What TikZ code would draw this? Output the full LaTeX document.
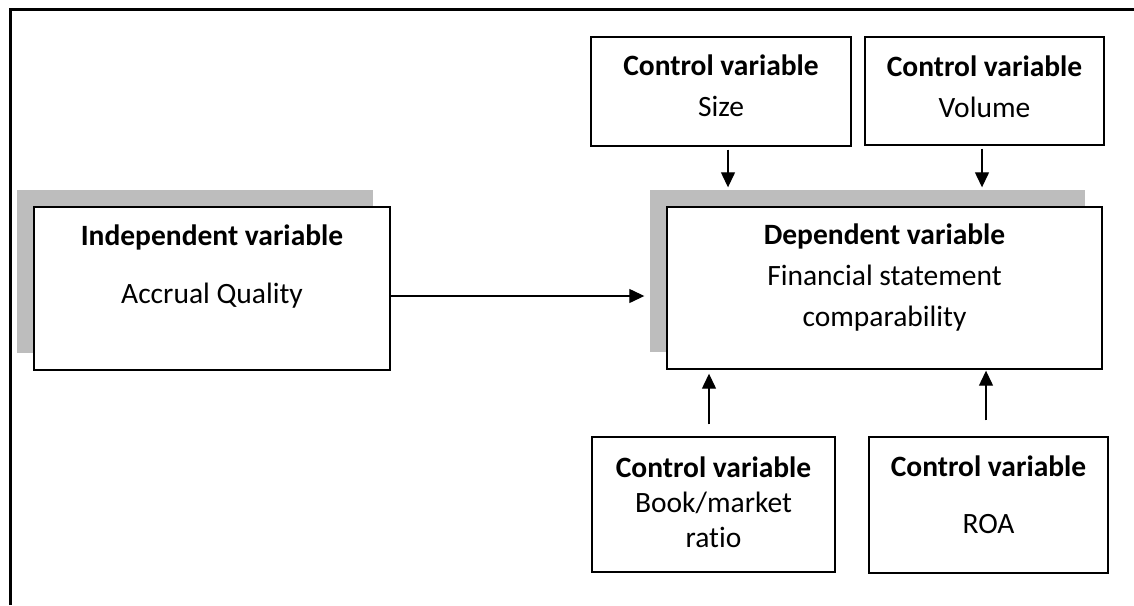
\documentclass[tikz,border=0pt]{standalone}
\usepackage{fontspec}
\setmainfont{Carlito}[Ligatures=NoCommon]
\usetikzlibrary{arrows.meta, positioning, shadows}

\begin{document}
\begin{tikzpicture}[x=1pt, y=-1pt,
    varbox/.style={draw, line width=1.4pt, fill=white, align=flush center, inner sep=0pt,
        font=\fontsize{29.5}{41}\selectfont},
    shadowed/.style={drop shadow={shadow xshift=-17pt, shadow yshift=17.5pt,
        fill=black!26, opacity=1}},
    link/.style={-{Triangle[length=15pt, width=14pt]}, line width=1.3pt}]
    \useasboundingbox (0,0) rectangle (1134,605);

    % Frame
    \draw[line width=2.5pt] (10.3,605) -- (10.3,9.5) -- (1134,9.5);

    % Main variables
    \node[varbox, shadowed, text width=356pt, text height=38pt, text depth=125pt]
        (indep) at (212,288.5) {\textbf{Independent variable}\\[17pt] Accrual Quality};
    \node[varbox, shadowed, text width=435pt, text height=37pt, text depth=125pt]
        (dep) at (884.5,288) {\textbf{Dependent variable}\\ Financial statement\\ comparability};

    % Control variables
    \node[varbox, text width=260pt, text height=38pt, text depth=71pt]
        (size) at (721,91.5) {\textbf{Control variable}\\ Size};
    \node[varbox, text width=239pt, text height=39pt, text depth=69pt]
        (volume) at (984.5,91) {\textbf{Control variable}\\ Volume};
    \node[varbox, text width=243pt, text height=40pt, text depth=95pt]
        (book) at (713.5,504.5) {\textbf{Control variable}\\[-6pt] Book/market\\[-6pt] ratio};
    \node[varbox, text width=239pt, text height=39pt, text depth=97pt]
        (roa) at (988.5,505) {\textbf{Control variable}\\[16pt] ROA};

    % Effects
    \draw[link, shorten >=22pt] ([yshift=-7.5pt]indep.east) -- ([yshift=-7.5pt]indep.east -| dep.west);
    \draw[link, shorten <=3pt, shorten >=19pt] ([xshift=7pt]size.south) -- ([xshift=7pt]size.south |- dep.north);
    \draw[link, shorten <=3pt, shorten >=19pt] ([xshift=-2.5pt]volume.south) -- ([xshift=-2.5pt]volume.south |- dep.north);
    \draw[link, shorten <=12pt, shorten >=4pt] ([xshift=-4.5pt]book.north) -- ([xshift=-4.5pt]book.north |- dep.south);
    \draw[link, shorten <=16pt, shorten >=1pt] ([xshift=-2.5pt]roa.north) -- ([xshift=-2.5pt]roa.north |- dep.south);
\end{tikzpicture}
\end{document}
